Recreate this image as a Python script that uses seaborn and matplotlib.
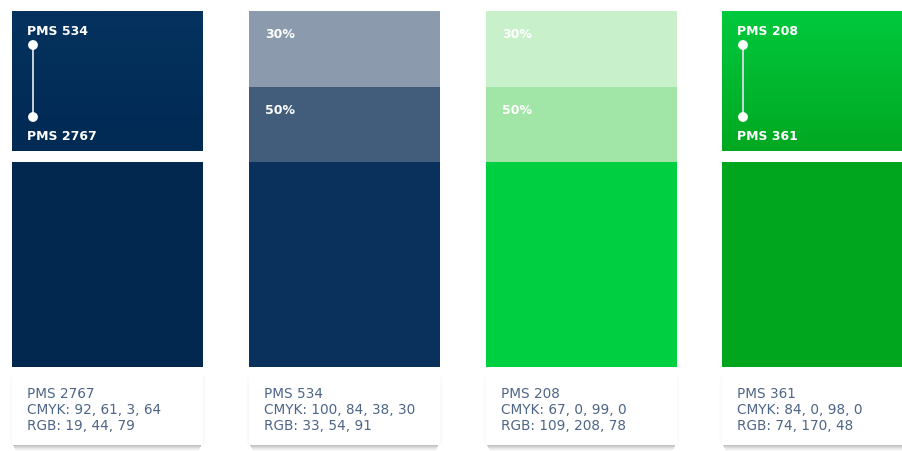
import numpy as np
import matplotlib
matplotlib.use("Agg")
import matplotlib.pyplot as plt
from matplotlib.patches import Rectangle, Circle
import seaborn as sns

# ---- data ----
pms_names = ["PMS 2767", "PMS 534", "PMS 208", "PMS 361"]
cmyk_values = ["92, 61, 3, 64", "100, 84, 38, 30", "67, 0, 99, 0", "84, 0, 98, 0"]
rgb_values = ["19, 44, 79", "33, 54, 91", "109, 208, 78", "74, 170, 48"]
main_colors = ["#03284f", "#0a305c", "#00cf41", "#00a61e"]
tint_labels = ["30%", "50%"]
tint_colors = {1: ["#8b9aad", "#425c7b"], 2: ["#c8f1cb", "#a1e6a6"]}
gradient_labels = {0: ("PMS 534", "PMS 2767"), 3: ("PMS 208", "PMS 361")}
gradient_colors = {0: ("#05325f", "#012a54"), 3: ("#00c93d", "#00a821")}

sns.set_theme(style="white")
plt.rcParams['font.family'] = ['DejaVu Sans']

fig = plt.figure(figsize=(9.03, 4.52), dpi=100)
ax = fig.add_axes([0, 0, 1, 1])
ax.set_xlim(0, 903)
ax.set_ylim(452, 0)
ax.axis("off")

W = 191
lefts = [12, 249, 486, 722]
TOP, MID, SPLIT, MAIN_TOP, MAIN_BOT, CARD_BOT = 12, 152, 88, 163, 368, 446
text_col = "#4d6586"

for i, name in enumerate(pms_names):
    x0 = lefts[i]
    # card shadow (bottom band)
    for k in range(7):
        ax.add_patch(Rectangle((x0 + 1 + k * 0.5, CARD_BOT - 1 + k), W - 2 - k * 1.0, 1.05,
                               color="#6a6a6a", alpha=0.5 * (1 - k / 7) ** 1.3, lw=0, zorder=1))
    for k in range(3):
        ax.add_patch(Rectangle((x0 - 1 - k, MAIN_BOT + 10), W + 2 + 2 * k, CARD_BOT - MAIN_BOT - 10,
                               color="#aaaaaa", alpha=0.025, lw=0, zorder=1))
    ax.add_patch(Rectangle((x0, MAIN_BOT), W, CARD_BOT - MAIN_BOT, color="white", lw=0, zorder=2))
    # main swatch
    ax.bar(x0, MAIN_BOT - MAIN_TOP, bottom=MAIN_TOP, width=W, align="edge",
           color=main_colors[i], lw=0, zorder=3)
    # top part
    if i in gradient_colors:
        c1, c2 = gradient_colors[i]
        cmap = matplotlib.colors.LinearSegmentedColormap.from_list("g", [c1, c2])
        grad = np.linspace(0, 1, 100).reshape(-1, 1)
        ax.imshow(grad, cmap=cmap, aspect="auto", extent=(x0, x0 + W, MID, TOP),
                  zorder=3, interpolation="bilinear")
        la, lb = gradient_labels[i]
        ax.text(x0 + 15, 35, la, color="white", fontsize=9, fontweight="bold", zorder=5)
        ax.text(x0 + 15, 140, lb, color="white", fontsize=9, fontweight="bold", zorder=5)
        cx = x0 + 21
        ax.plot([cx, cx], [46, 118], color="#d8dde6", lw=1.3, zorder=4)
        ax.add_patch(Circle((cx, 46), 4.2, color="white", zorder=5))
        ax.add_patch(Circle((cx, 118), 4.2, color="white", zorder=5))
    else:
        t30, t50 = tint_colors[i]
        ax.bar(x0, SPLIT - TOP, bottom=TOP, width=W, align="edge", color=t30, lw=0, zorder=3)
        ax.bar(x0, MAIN_TOP - SPLIT, bottom=SPLIT, width=W, align="edge", color=t50, lw=0, zorder=3)
        ax.text(x0 + 16, 38, tint_labels[0], color="white", fontsize=9, fontweight="bold", zorder=5)
        ax.text(x0 + 16, 114, tint_labels[1], color="white", fontsize=9, fontweight="bold", zorder=5)
    # card text
    ax.text(x0 + 15, 398, name, color=text_col, fontsize=9.8, zorder=5)
    ax.text(x0 + 15, 414, "CMYK: " + cmyk_values[i], color=text_col, fontsize=9.8, zorder=5)
    ax.text(x0 + 15, 430, "RGB: " + rgb_values[i], color=text_col, fontsize=9.8, zorder=5)

ax.set_xlim(0, 903)
ax.set_ylim(452, 0)
fig.savefig("out.png", dpi=100, facecolor="white")
